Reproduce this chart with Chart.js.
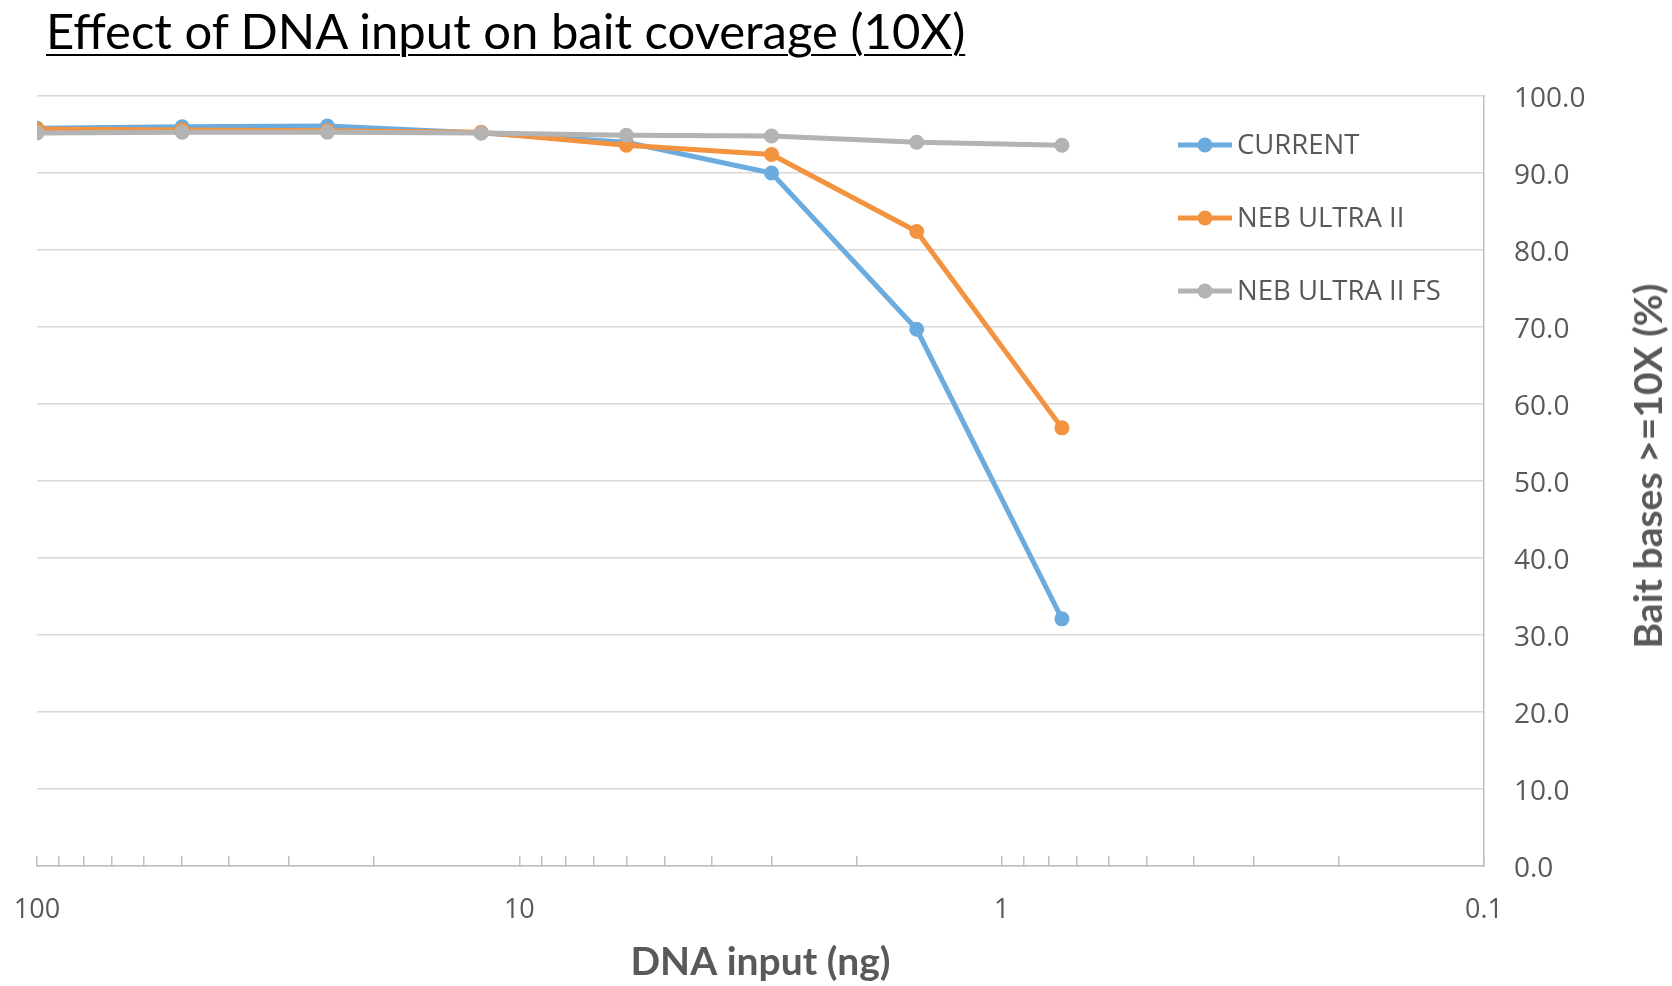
<!DOCTYPE html>
<html>
<head>
<meta charset="utf-8">
<title>Effect of DNA input on bait coverage</title>
<script src="https://cdn.jsdelivr.net/npm/chart.js@4.4.1/dist/chart.umd.min.js"></script>
<style>
  body { margin: 0; background: #fff; }
  #wrap { position: relative; width: 1672px; height: 986px; }
  #title {
    position: absolute; left: 46px; top: 0px;
    font-family: Lato, "Open Sans", sans-serif; font-size: 49px; line-height: 60px;
    color: #000; text-decoration: underline; text-decoration-thickness: 2px;
    text-underline-offset: 5px; white-space: nowrap;
  }
  #ytitle {
    position: absolute; left: 1647px; top: 466px;
    transform: translate(-50%, -50%) rotate(-90deg);
    font-family: Lato, "Open Sans", sans-serif; font-weight: bold; font-size: 39px;
    color: #595959; white-space: nowrap;
  }
</style>
</head>
<body>
<div id="wrap">
  <canvas id="chart" width="1672" height="986"></canvas>
  <div id="title">Effect of DNA input on bait coverage (10X)</div>
  <div id="ytitle">Bait bases &gt;=10X (%)</div>
</div>
<script>
// DNA input (ng)
var inputNg = [100, 50, 25, 12, 6, 3, 1.5, 0.75];
// bait bases >= 10X (%)
var current    = [95.8, 96.0, 96.1, 95.2, 94.0, 90.0, 69.7, 32.1];
var nebUltra   = [95.7, 95.6, 95.5, 95.3, 93.6, 92.4, 82.4, 56.9];
var nebUltraFs = [95.2, 95.3, 95.3, 95.2, 94.9, 94.8, 94.0, 93.6];

var names  = ['CURRENT', 'NEB ULTRA II', 'NEB ULTRA II FS'];
var series = [current, nebUltra, nebUltraFs];
var colors = ['#6BABDE', '#F39340', '#B3B3B3'];

function pts(vals) {
    return vals.map(function (v, i) { return { x: inputNg[i], y: v }; });
}

var datasets = series.map(function (s, i) {
    return {
        label: names[i],
        data: pts(s),
        borderColor: colors[i],
        backgroundColor: colors[i],
        borderWidth: 5,
        pointRadius: 7.5,
        pointBorderWidth: 0,
        pointHoverRadius: 7.5,
        order: 3 - i,
        fill: false
    };
});

// legend drawn inside the plot, right side
var insideLegend = {
    id: 'insideLegend',
    afterDraw: function (chart) {
        var ctx = chart.ctx, a = chart.chartArea;
        ctx.save();
        chart.data.datasets.forEach(function (ds, i) {
            var y = a.top + 49 + i * 73;
            var x0 = a.right - 306, x1 = a.right - 252;
            ctx.strokeStyle = ds.borderColor;
            ctx.lineWidth = 5;
            ctx.beginPath(); ctx.moveTo(x0, y); ctx.lineTo(x1, y); ctx.stroke();
            ctx.fillStyle = ds.borderColor;
            ctx.beginPath(); ctx.arc((x0 + x1) / 2, y, 7.5, 0, Math.PI * 2); ctx.fill();
            ctx.fillStyle = '#595959';
            ctx.font = '27.5px "Open Sans"';
            ctx.textBaseline = 'middle';
            ctx.fillText(ds.label, a.right - 247, y + 1);
        });
        ctx.restore();
    }
};

Chart.defaults.font.family = '"Open Sans", sans-serif';

new Chart(document.getElementById('chart').getContext('2d'), {
    type: 'line',
    data: { datasets: datasets },
    options: {
        responsive: false,
        animation: false,
        layout: { padding: { left: 37, top: 96, right: 0, bottom: 0 } },
        plugins: { legend: { display: false }, tooltip: { enabled: false } },
        scales: {
            x: {
                type: 'logarithmic',
                reverse: true,
                min: 0.1,
                max: 100,
                afterBuildTicks: function (scale) {
                    var t = [];
                    for (var e = -1; e <= 1; e++) {
                        for (var s = 1; s <= 9; s++) t.push({ value: Number((s * Math.pow(10, e)).toPrecision(3)) });
                    }
                    t.push({ value: 100 });
                    scale.ticks = t;
                },
                afterFit: function (scale) { scale.height = 120; },
                ticks: {
                    autoSkip: false,
                    maxRotation: 0,
                    padding: 38,
                    color: '#595959',
                    font: { size: 27 },
                    callback: function (v) {
                        var l = Math.log10(v);
                        return Math.abs(l - Math.round(l)) < 1e-9 ? String(v) : '';
                    }
                },
                grid: { drawOnChartArea: false, drawTicks: true, tickLength: -10, color: '#BFBFBF', lineWidth: 1.5 },
                border: { display: true, color: '#BFBFBF', width: 1.5 },
                title: {
                    display: true,
                    text: 'DNA input (ng)',
                    color: '#595959',
                    font: { family: 'Lato, "Open Sans", sans-serif', size: 39, weight: 'bold' },
                    padding: { top: 0, bottom: 0 }
                }
            },
            y: {
                position: 'right',
                min: 0,
                max: 100,
                afterFit: function (scale) { scale.width = 188; },
                ticks: {
                    stepSize: 10,
                    padding: 30,
                    labelOffset: 3,
                    color: '#595959',
                    font: { size: 28 },
                    callback: function (v) { return v.toFixed(1); }
                },
                grid: { drawTicks: false, color: '#D9D9D9', lineWidth: 1.5 },
                border: { display: true, color: '#BFBFBF', width: 1.5 }
            }
        }
    },
    plugins: [insideLegend]
});
</script>
</body>
</html>
